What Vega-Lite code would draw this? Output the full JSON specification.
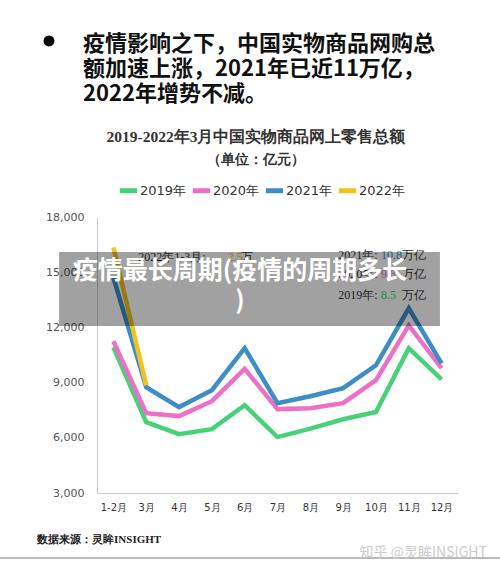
{
  "$schema": "https://vega.github.io/schema/vega-lite/v6.json",
  "width": 361,
  "height": 276,
  "autosize": {"type": "none"},
  "padding": {"left": 97, "top": 217, "right": 42, "bottom": 86},
  "background": "white",
  "config": {
    "view": {"stroke": null},
    "axis": {"grid": false, "ticks": false, "tickSize": 0, "domainColor": "#cccccc", "title": null},
    "axisX": {"labelFont": "DejaVu Sans", "labelFontSize": 10, "labelColor": "#333333", "labelPadding": 9, "labelAngle": 0},
    "axisY": {"labelFont": "DejaVu Sans", "labelFontSize": 11, "labelColor": "#555555", "labelPadding": 13, "labelExpr": "format(datum.value, ',')"}
  },
  "datasets": {
    "series": [
      {"year": "2019年", "month": "1-2月", "value": 10920},
      {"year": "2019年", "month": "3月", "value": 6850},
      {"year": "2019年", "month": "4月", "value": 6200},
      {"year": "2019年", "month": "5月", "value": 6470},
      {"year": "2019年", "month": "6月", "value": 7770},
      {"year": "2019年", "month": "7月", "value": 6040},
      {"year": "2019年", "month": "8月", "value": 6500},
      {"year": "2019年", "month": "9月", "value": 7010},
      {"year": "2019年", "month": "10月", "value": 7400},
      {"year": "2019年", "month": "11月", "value": 10870},
      {"year": "2019年", "month": "12月", "value": 9180},
      {"year": "2020年", "month": "1-2月", "value": 11250},
      {"year": "2020年", "month": "3月", "value": 7340},
      {"year": "2020年", "month": "4月", "value": 7180},
      {"year": "2020年", "month": "5月", "value": 7990},
      {"year": "2020年", "month": "6月", "value": 9750},
      {"year": "2020年", "month": "7月", "value": 7560},
      {"year": "2020年", "month": "8月", "value": 7610},
      {"year": "2020年", "month": "9月", "value": 7880},
      {"year": "2020年", "month": "10月", "value": 9130},
      {"year": "2020年", "month": "11月", "value": 12110},
      {"year": "2020年", "month": "12月", "value": 9780},
      {"year": "2021年", "month": "1-2月", "value": 14700},
      {"year": "2021年", "month": "3月", "value": 8750},
      {"year": "2021年", "month": "4月", "value": 7670},
      {"year": "2021年", "month": "5月", "value": 8590},
      {"year": "2021年", "month": "6月", "value": 10870},
      {"year": "2021年", "month": "7月", "value": 7880},
      {"year": "2021年", "month": "8月", "value": 8260},
      {"year": "2021年", "month": "9月", "value": 8700},
      {"year": "2021年", "month": "10月", "value": 9940},
      {"year": "2021年", "month": "11月", "value": 13040},
      {"year": "2021年", "month": "12月", "value": 10050},
      {"year": "2022年", "month": "1-2月", "value": 16350},
      {"year": "2022年", "month": "3月", "value": 8850}
    ],
    "notes": [
      {"year": "2021年", "prefix": "2021年:", "num": "10.8", "suffix": "万亿", "level": 15935},
      {"year": "2020年", "prefix": "2020年:", "num": "9.8", "suffix": "万亿", "level": 14902},
      {"year": "2019年", "prefix": "2019年:", "num": "8.5", "suffix": "万亿", "level": 13761}
    ],
    "note2022": [
      {"year": "2022年", "prefix": "2022年1-3月:", "num": "2.5", "suffix": "万", "level": 15826}
    ]
  },
  "layer": [
    {
      "layer": [
        {
          "data": {"name": "series"},
          "mark": {"type": "line", "strokeWidth": 4.5},
          "encoding": {
            "x": {
              "field": "month", "type": "ordinal", "title": null,
              "scale": {"type": "point", "padding": 0.5, "domain": ["1-2月", "3月", "4月", "5月", "6月", "7月", "8月", "9月", "10月", "11月", "12月"]}
            },
            "y": {
              "field": "value", "type": "quantitative", "title": null,
              "scale": {"domain": [3000, 18000], "nice": false, "zero": false},
              "axis": {"values": [3000, 6000, 9000, 12000, 15000, 18000], "format": ",", "labelExpr": "format(datum.value, ',')"}
            },
            "color": {
              "field": "year", "type": "nominal",
              "scale": {"domain": ["2019年", "2020年", "2021年", "2022年"], "range": ["#47d27a", "#ee6fc6", "#3d8ec6", "#f2c21e"]},
              "legend": {"title": null, "orient": "none", "legendX": 20, "legendY": -38, "direction": "horizontal", "symbolType": "stroke", "symbolStrokeWidth": 5, "symbolSize": 300, "labelFont": "DejaVu Sans", "labelFontSize": 13, "labelColor": "#333333", "labelOffset": 0, "columnPadding": -5, "padding": 0}
            }
          }
        },
        {
          "data": {"name": "notes"},
          "mark": {"type": "text", "font": "Liberation Serif", "fontSize": 12, "align": "left", "baseline": "middle", "dx": -5, "fill": "#333333"},
          "encoding": {
            "x": {"datum": "9月", "type": "ordinal"},
            "y": {"field": "level", "type": "quantitative", "title": null},
            "text": {"field": "prefix"}
          }
        },
        {
          "data": {"name": "notes"},
          "mark": {"type": "text", "font": "Liberation Serif", "fontSize": 12, "align": "left", "baseline": "middle", "dx": 5},
          "encoding": {
            "x": {"datum": "10月", "type": "ordinal"},
            "y": {"field": "level", "type": "quantitative", "title": null},
            "text": {"field": "num"},
            "color": {"field": "year", "type": "nominal", "legend": null}
          }
        },
        {
          "data": {"name": "notes"},
          "mark": {"type": "text", "font": "Liberation Serif", "fontSize": 12, "align": "right", "baseline": "middle", "dx": 17, "fill": "#333333"},
          "encoding": {
            "x": {"datum": "11月", "type": "ordinal"},
            "y": {"field": "level", "type": "quantitative", "title": null},
            "text": {"field": "suffix"}
          }
        },
        {
          "data": {"name": "note2022"},
          "mark": {"type": "text", "font": "Liberation Serif", "fontSize": 12, "align": "left", "baseline": "middle", "dx": -8, "fill": "#333333"},
          "encoding": {
            "x": {"datum": "3月", "type": "ordinal"},
            "y": {"field": "level", "type": "quantitative", "title": null},
            "text": {"field": "prefix"}
          }
        },
        {
          "data": {"name": "note2022"},
          "mark": {"type": "text", "font": "Liberation Serif", "fontSize": 12, "align": "left", "baseline": "middle", "dx": 16},
          "encoding": {
            "x": {"datum": "5月", "type": "ordinal"},
            "y": {"field": "level", "type": "quantitative", "title": null},
            "text": {"field": "num"},
            "color": {"field": "year", "type": "nominal", "legend": null}
          }
        },
        {
          "data": {"name": "note2022"},
          "mark": {"type": "text", "font": "Liberation Serif", "fontSize": 12, "align": "left", "baseline": "middle", "dx": -4, "fill": "#333333"},
          "encoding": {
            "x": {"datum": "6月", "type": "ordinal"},
            "y": {"field": "level", "type": "quantitative", "title": null},
            "text": {"field": "suffix"}
          }
        }
      ]
    },
    {
      "layer": [
        {
          "data": {"values": [{}]},
          "mark": {"type": "rect", "fill": "#000000", "opacity": 0.37},
          "encoding": {
            "x": {"datum": -0.105, "type": "quantitative", "scale": {"domain": [0, 1], "nice": false, "zero": false}, "axis": null},
            "x2": {"datum": 0.95},
            "y": {"datum": 16098, "type": "quantitative"},
            "y2": {"datum": 12076}
          }
        },
        {
          "data": {"values": [{"t": "疫情最长周期(疫情的周期多长\n)"}]},
          "mark": {"type": "text", "font": "Noto Sans CJK SC", "fontSize": 25, "fontWeight": "bold", "fill": "#ffffff", "align": "center", "baseline": "middle", "lineBreak": "\n", "lineHeight": 30},
          "encoding": {
            "x": {"datum": 0.396, "type": "quantitative", "scale": {"domain": [0, 1], "nice": false, "zero": false}, "axis": null},
            "y": {"datum": 15065, "type": "quantitative"},
            "text": {"field": "t"}
          }
        },
        {
          "data": {"values": [{"t": "疫情影响之下，中国实物商品网购总\n额加速上涨，2021年已近11万亿，\n2022年增势不减。"}]},
          "mark": {"type": "text", "font": "Noto Sans CJK SC", "fontSize": 22, "fontWeight": "bold", "fill": "#111111", "align": "left", "baseline": "middle", "lineBreak": "\n", "lineHeight": 25},
          "encoding": {
            "x": {"datum": -0.0388, "type": "quantitative", "scale": {"domain": [0, 1], "nice": false, "zero": false}, "axis": null},
            "y": {"datum": 27403, "type": "quantitative"},
            "text": {"field": "t"}
          }
        },
        {
          "data": {"values": [{}]},
          "mark": {"type": "point", "shape": "circle", "filled": true, "fill": "#000000", "opacity": 1, "size": 121},
          "encoding": {
            "x": {"datum": -0.133, "type": "quantitative", "scale": {"domain": [0, 1], "nice": false, "zero": false}, "axis": null},
            "y": {"datum": 27566, "type": "quantitative"}
          }
        },
        {
          "data": {"values": [{"t": "2019-2022年3月中国实物商品网上零售总额"}]},
          "mark": {"type": "text", "font": "Liberation Serif", "fontSize": 15.5, "fontWeight": "bold", "fill": "#333333", "align": "center", "baseline": "middle"},
          "encoding": {
            "x": {"datum": 0.4404, "type": "quantitative", "scale": {"domain": [0, 1], "nice": false, "zero": false}, "axis": null},
            "y": {"datum": 22348, "type": "quantitative"},
            "text": {"field": "t"}
          }
        },
        {
          "data": {"values": [{"t": "（单位：亿元）"}]},
          "mark": {"type": "text", "font": "Liberation Serif", "fontSize": 14, "fontWeight": "bold", "fill": "#333333", "align": "center", "baseline": "middle"},
          "encoding": {
            "x": {"datum": 0.4404, "type": "quantitative", "scale": {"domain": [0, 1], "nice": false, "zero": false}, "axis": null},
            "y": {"datum": 21098, "type": "quantitative"},
            "text": {"field": "t"}
          }
        },
        {
          "data": {"values": [{"t": "数据来源：灵眸INSIGHT"}]},
          "mark": {"type": "text", "font": "Liberation Serif", "fontSize": 11, "fontWeight": "bold", "fill": "#222222", "align": "left", "baseline": "middle"},
          "encoding": {
            "x": {"datum": -0.166, "type": "quantitative", "scale": {"domain": [0, 1], "nice": false, "zero": false}, "axis": null},
            "y": {"datum": 445, "type": "quantitative"},
            "text": {"field": "t"}
          }
        },
        {
          "data": {"values": [{}]},
          "mark": {"type": "rule", "color": "#777777", "strokeWidth": 1},
          "encoding": {
            "x": {"datum": -0.269, "type": "quantitative", "scale": {"domain": [0, 1], "nice": false, "zero": false}, "axis": null},
            "x2": {"datum": 1.117},
            "y": {"datum": -533, "type": "quantitative"}
          }
        },
        {
          "data": {"values": [{"t": "知乎 @灵眸INSIGHT"}]},
          "mark": {"type": "text", "font": "Noto Sans CJK SC", "fontSize": 14, "fill": "#cccccc", "align": "right", "baseline": "middle"},
          "encoding": {
            "x": {"datum": 1.08, "type": "quantitative", "scale": {"domain": [0, 1], "nice": false, "zero": false}, "axis": null},
            "y": {"datum": -262, "type": "quantitative"},
            "text": {"field": "t"}
          }
        }
      ]
    }
  ],
  "resolve": {"scale": {"x": "independent"}}
}
